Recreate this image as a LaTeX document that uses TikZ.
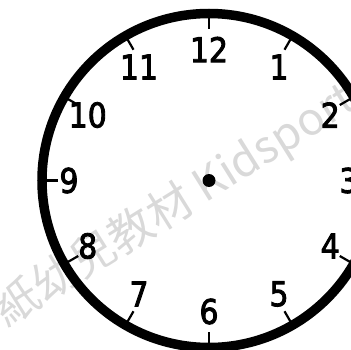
\documentclass[tikz,border=0pt]{standalone}
\usepackage{fontspec}
\newfontfamily\clockfont[FakeStretch=0.88,FakeBold=2.6]{DejaVu Sans}
\newfontfamily\markfont{Noto Sans CJK TC}
\definecolor{markgray}{gray}{0.85}
\tikzset{
  hournum/.style={inner sep=0pt, font=\clockfont\fontsize{34}{34}\selectfont},
  hourtick/.style={line width=2.2pt},
}
\begin{document}
\begin{tikzpicture}[x=1pt,y=1pt]
  \useasboundingbox (0,0) rectangle (351,349);
  \clip (0,0) rectangle (351,349);
  % watermark
  \node[rotate=32, anchor=west, inner sep=0pt, text=markgray,
        font=\markfont\fontsize{45}{45}\selectfont] (mark) at (-1,33) {紙幼兒教材 Kidsport};
  % clock face
  \coordinate (c) at (209,168.5);
  \draw[line width=9.5pt] (c) circle (167);
  \begin{scope}[shift={(c)}]
    % hour ticks
    \foreach \a in {0,30,...,330}
      \draw[hourtick] (\a:163) -- (\a:151);
    % numbers
    \foreach \n in {1,...,12}
      \node[hournum] (h\n) at ({90-30*\n}:140 and 131) {\n};
  \end{scope}
  % hub
  \node[circle, fill, inner sep=0pt, minimum size=13pt] (hub) at (c) {};
\end{tikzpicture}
\end{document}
